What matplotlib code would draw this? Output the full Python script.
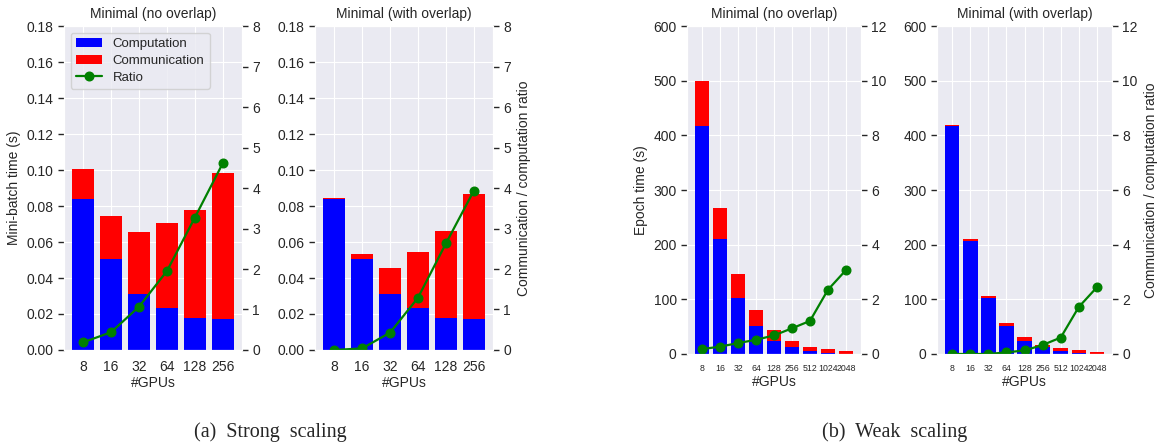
import matplotlib
matplotlib.use("Agg")
import matplotlib.pyplot as plt
import seaborn as sns
import numpy as np

sns.set_style("darkgrid")
plt.rcParams['font.family'] = ['Liberation Sans', 'DejaVu Sans']
plt.rcParams['ytick.left'] = True
plt.rcParams['ytick.right'] = False
plt.rcParams['ytick.major.size'] = 4
plt.rcParams['ytick.major.width'] = 1.0
plt.rcParams['ytick.color'] = '#262626'
plt.rcParams['axes.titlesize'] = 10
plt.rcParams['axes.labelsize'] = 10
plt.rcParams['xtick.labelsize'] = 10
plt.rcParams['ytick.labelsize'] = 10

# ---- data ----
strong_gpus = ["8", "16", "32", "64", "128", "256"]
strong_noov_comp = [0.0839, 0.0507, 0.0313, 0.0235, 0.0178, 0.0172]
strong_noov_total = [0.1006, 0.0744, 0.0656, 0.0706, 0.0778, 0.0983]
strong_noov_ratio = [0.19, 0.44, 1.07, 1.95, 3.27, 4.61]

strong_ov_comp = [0.0837, 0.0507, 0.0313, 0.0235, 0.0178, 0.0172]
strong_ov_total = [0.0844, 0.0533, 0.0457, 0.0544, 0.0661, 0.0867]
strong_ov_ratio = [0.0, 0.04, 0.43, 1.29, 2.63, 3.93]

weak_gpus = ["8", "16", "32", "64", "128", "256", "512", "1024", "2048"]
weak_noov_comp = [417, 209.5, 103, 52, 24.4, 12.2, 4.9, 1.5, 0.8]
weak_noov_total = [499.5, 267, 147, 81, 44.5, 24.4, 13.4, 9.7, 6.1]
weak_noov_ratio = [0.18, 0.27, 0.40, 0.52, 0.68, 0.94, 1.21, 2.35, 3.07]

weak_ov_comp = [417, 207, 103, 52, 24.4, 12.2, 4.9, 1.5, 0.8]
weak_ov_total = [419, 209.5, 107, 56, 30.5, 17, 10.4, 8, 4.3]
weak_ov_ratio = [0.0, 0.0, 0.0, 0.06, 0.13, 0.33, 0.6, 1.72, 2.44]

fig = plt.figure(figsize=(11.59, 4.45), dpi=100)

def panel(rect, cats, comp, total, ratio, ylim, yticks, rlim, rticks, title,
          ylabel=None, rlabel=None, legend=False, xfs=10):
    ax = fig.add_axes(rect)
    x = np.arange(len(cats))
    comm = [t - c for t, c in zip(total, comp)]
    b1 = ax.bar(x, comp, width=0.8, color='#0000ff', label='Computation', zorder=2,
                edgecolor='none', linewidth=0)
    b2 = ax.bar(x, comm, width=0.8, bottom=comp, color='#ff0000', label='Communication',
                zorder=2, edgecolor='none', linewidth=0)
    ax.set_xticks(x)
    ax.set_xticklabels(cats, fontsize=xfs)
    ax.set_ylim(*ylim)
    ax.set_yticks(yticks)
    ax.set_title(title)
    ax.set_xlabel('#GPUs', labelpad=2)
    if ylabel:
        ax.set_ylabel(ylabel)
    ax2 = ax.twinx()
    ln, = ax2.plot(x, ratio, color='green', marker='o', markersize=6.2, linewidth=1.6,
                   label='Ratio')
    ax2.set_ylim(*rlim)
    ax2.set_yticks(rticks)
    ax2.grid(False)
    ax2.tick_params(axis='y', right=True, length=4, width=1.0, colors='#262626')
    if rlabel:
        ax2.set_ylabel(rlabel)
    if legend:
        ax.legend(handles=[b1, b2, ln], loc='upper left', frameon=True, fontsize=9.5,
                  labelspacing=0.35, facecolor='#eaeaf2', edgecolor='#cccccc',
                  framealpha=0.8, borderaxespad=0.5)
    return ax, ax2

H1 = 0.728
panel([0.0552, 0.2135, 0.1536, H1], strong_gpus, strong_noov_comp, strong_noov_total,
      strong_noov_ratio, (0, 0.18), np.arange(0, 0.181, 0.02), (0, 8), range(0, 9),
      'Minimal (no overlap)', ylabel='Mini-batch time (s)', legend=True)
panel([0.2718, 0.2135, 0.1536, H1], strong_gpus, strong_ov_comp, strong_ov_total,
      strong_ov_ratio, (0, 0.18), np.arange(0, 0.181, 0.02), (0, 8), range(0, 9),
      'Minimal (with overlap)', rlabel='Communication / computation ratio')
panel([0.5928, 0.2045, 0.1501, 0.737], weak_gpus, weak_noov_comp, weak_noov_total,
      weak_noov_ratio, (0, 600), range(0, 601, 100), (0, 12), range(0, 13, 2),
      'Minimal (no overlap)', ylabel='Epoch time (s)', xfs=6.3)
panel([0.8085, 0.2045, 0.151, 0.737], weak_gpus, weak_ov_comp, weak_ov_total,
      weak_ov_ratio, (0, 600), range(0, 601, 100), (0, 12), range(0, 13, 2),
      'Minimal (with overlap)', rlabel='Communication / computation ratio', xfs=6.3)

fig.text(270 / 1159, 1 - 432 / 445, '(a)  Strong  scaling', ha='center', va='center',
         family='Liberation Serif', fontsize=14.5)
fig.text(895 / 1159, 1 - 432 / 445, '(b)  Weak  scaling', ha='center', va='center',
         family='Liberation Serif', fontsize=14.5)

fig.savefig('out.png', dpi=100, facecolor='white')
